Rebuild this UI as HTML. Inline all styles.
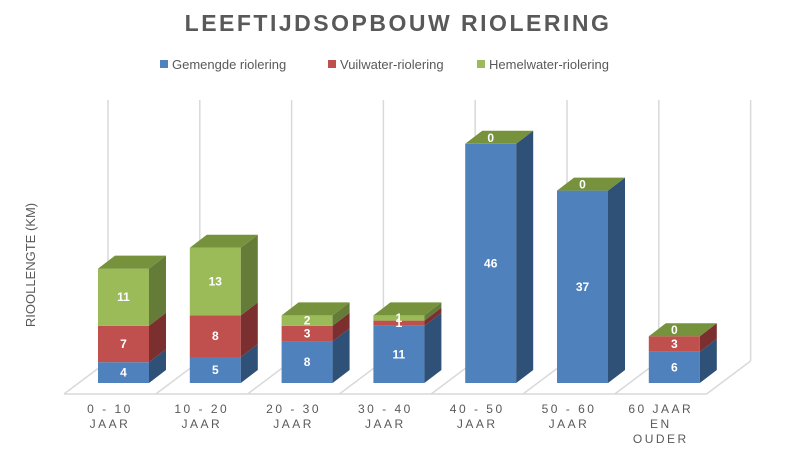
<!DOCTYPE html>
<html><head><meta charset="utf-8"><style>
body{margin:0;background:#fff;}
svg{display:block;font-family:"Liberation Sans",sans-serif;}
</style></head><body>
<svg id="c" width="797" height="459">
<text x="398" y="31" text-anchor="middle" font-size="23" font-weight="bold" fill="#595959" letter-spacing="2.5">LEEFTIJDSOPBOUW RIOLERING</text>
<g>
<rect x="160" y="60" width="8" height="8" fill="#4F81BD"/>
<text x="172" y="69" font-size="13" fill="#595959">Gemengde riolering</text>
<rect x="328" y="60" width="8" height="8" fill="#C0504D"/>
<text x="340" y="69" font-size="13" fill="#595959">Vuilwater-riolering</text>
<rect x="477" y="60" width="8" height="8" fill="#9BBB59"/>
<text x="489" y="69" font-size="13" fill="#595959">Hemelwater-riolering</text>
</g>
<text transform="translate(35,265) rotate(-90)" text-anchor="middle" font-size="13" fill="#595959">RIOOLLENGTE (KM)</text>
<g id="grid"></g><g id="bars"></g><g id="labels"></g>
</svg>
<script>
const categories=[["0 - 10","JAAR"],["10 - 20","JAAR"],["20 - 30","JAAR"],["30 - 40","JAAR"],["40 - 50","JAAR"],["50 - 60","JAAR"],["60 JAAR","EN","OUDER"]];
const gemengd=[4,5,8,11,46,37,6];
const vuilwater=[7,8,3,1,0,0,3];
const hemelwater=[11,13,2,1,0,0,0];
const seriesColors=[["#4F81BD","#2F5077","#3E6698"],["#C0504D","#7B302F","#A04340"],["#9BBB59","#657B38","#758C40"]];
const NS="http://www.w3.org/2000/svg";
const base=383, ppu=5.2, pitch=91.8, x0=98, bw=51, dx=17, dy=13;
const yS=v=>base-v*ppu;
const xS=i=>x0+i*pitch;
function mk(tag,attrs,parent){const e=document.createElementNS(NS,tag);for(const k in attrs)e.setAttribute(k,attrs[k]);parent.appendChild(e);return e;}
const grid=document.getElementById('grid'),bars=document.getElementById('bars'),labels=document.getElementById('labels');
const n=categories.length;
for(let k=0;k<=n;k++){
  const fx=64+k*pitch;
  const l=mk('line',{x1:fx+44,y1:100,x2:fx+44,y2:361,stroke:"#d9d9d9","stroke-width":1.5},grid);
  
  
  const d=mk('line',{x1:fx,y1:394,x2:fx+44,y2:361,stroke:"#d9d9d9","stroke-width":1.5},grid);
  
  
}
const fl=mk('line',{x1:64,y1:394,x2:64+n*pitch,y2:394,stroke:"#d9d9d9","stroke-width":1.5},grid);


const series=[gemengd,vuilwater,hemelwater];
const names=["gemengd","vuilwater","hemelwater"];
for(let i=0;i<n;i++){
  let cum=0;const x=xS(i);
  const total=gemengd[i]+vuilwater[i]+hemelwater[i];
  for(let s=0;s<3;s++){
    const v=series[s][i];
    const y1=yS(cum),y2=yS(cum+v);cum+=v;
    const c=seriesColors[s];
    if(v>0){
      const f=mk('rect',{x:x,y:y2,width:bw,height:y1-y2,fill:c[0]},bars);
      
      
      const sd=mk('polygon',{points:`${x+bw},${y1} ${x+bw+dx},${y1-dy} ${x+bw+dx},${y2-dy} ${x+bw},${y2}`,fill:c[1]},bars);
      
      
    }
  }
  const yt=yS(total);
  const top=mk('polygon',{points:`${x},${yt} ${x+dx},${yt-dy} ${x+bw+dx},${yt-dy} ${x+bw},${yt}`,fill:hemelwater[i]>0||vuilwater[i]==0?"#76923C":(vuilwater[i]>0?"#76923C":"#76923C")},bars);
  
  
  cum=0;
  for(let s=0;s<3;s++){
    const v=series[s][i];
    const ym=yS(cum+v/2);cum+=v;
    const t=mk('text',{x:x+bw/2,y:(v>0?ym+4:yt+4-s*3),"text-anchor":"middle","font-size":12,"font-weight":"bold",fill:"#fff"},labels);
    t.textContent=v;
    
    
    if(v===0&&s===1) t.setAttribute('display','none');
  }
  categories[i].forEach((ln,j)=>{
    const t=mk('text',{x:110+i*pitch,y:413+j*15,"text-anchor":"middle","font-size":12,fill:"#595959","letter-spacing":"2.5"},labels);
    t.textContent=ln;
    
    
  });
}
</script>
</body></html>
